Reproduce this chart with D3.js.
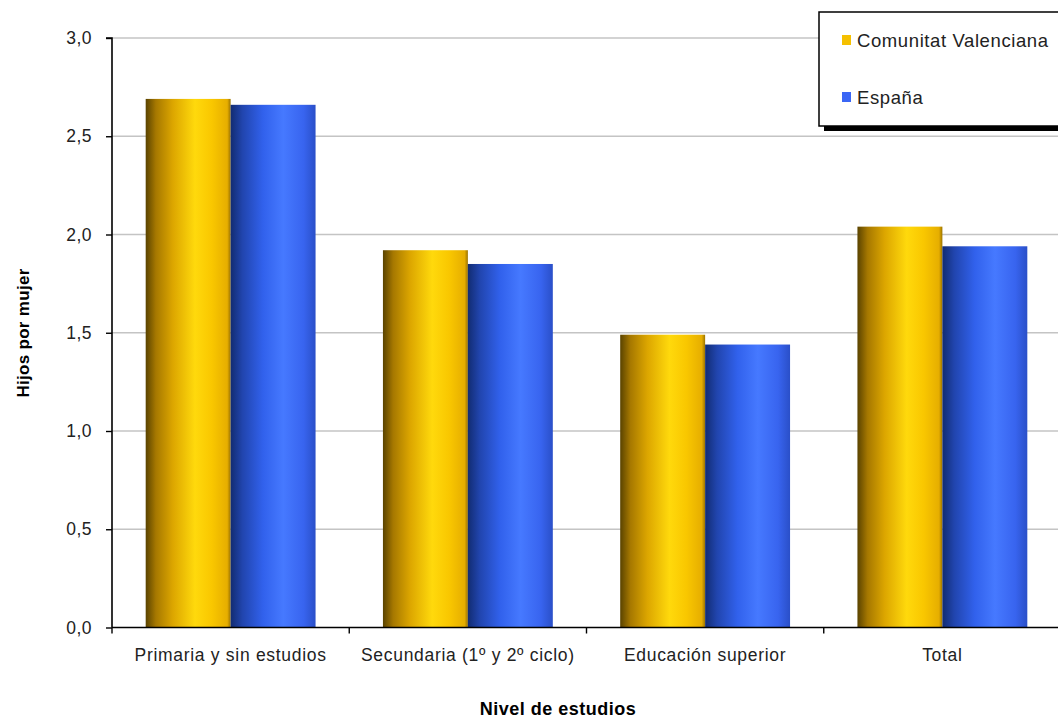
<!DOCTYPE html>
<html>
<head>
<meta charset="utf-8">
<script src="https://cdn.jsdelivr.net/npm/d3@7"></script>
<style>
  body { margin: 0; background: #fff; }
  svg { display: block; font-family: "Liberation Sans", Arial, sans-serif; }
</style>
</head>
<body>
<div id="chart"></div>
<script>
// Categories and values
const categories = ["Primaria y sin estudios", "Secundaria (1º y 2º ciclo)", "Educación superior", "Total"];
const seriesNames = ["Comunitat Valenciana", "España"];
const valenciaValues = [2.69, 1.92, 1.49, 2.04];
const spainValues = [2.66, 1.85, 1.44, 1.94];
const yTicks = [0, 0.5, 1, 1.5, 2, 2.5, 3];

const width = 1058, height = 721;

const svg = d3.select("#chart").append("svg")
    .attr("width", width)
    .attr("height", height);

// Gradients that give the bars their cylinder look
const defs = svg.append("defs");
function addGradient(id, stops) {
    const g = defs.append("linearGradient").attr("id", id)
        .attr("x1", "0%").attr("x2", "100%").attr("y1", "0%").attr("y2", "0%");
    stops.forEach(s => g.append("stop").attr("offset", s[0]).attr("stop-color", s[1]));
}
addGradient("gradYellow", [["0%", "#5a4300"], ["12%", "#a67800"], ["32%", "#dca600"], ["58%", "#ffd90c"], ["78%", "#f9c700"], ["96%", "#e6ae00"], ["100%", "#9c7400"]]);
addGradient("gradBlue", [["0%", "#122c72"], ["14%", "#2145ae"], ["38%", "#3161ec"], ["62%", "#4679ff"], ["86%", "#3864ef"], ["100%", "#2a4fc8"]]);

const x = d3.scaleBand()
    .domain(categories)
    .range([112, 1061])
    .paddingInner(0.284)
    .paddingOuter(0.142);

const x1 = d3.scaleBand()
    .domain(seriesNames)
    .range([0, x.bandwidth()]);

const y = d3.scaleLinear()
    .domain([0, 3])
    .range([627.5, 38]);

// Horizontal gridlines
svg.append("g")
    .selectAll("line")
    .data(yTicks.filter(d => d > 0))
    .enter()
    .append("line")
    .attr("x1", 112).attr("x2", width)
    .attr("y1", d => y(d)).attr("y2", d => y(d))
    .attr("stroke", "#c4c4c4")
    .attr("stroke-width", 1.6);

// Bars
const rows = categories.map((c, i) => ({ cat: c, values: [valenciaValues[i], spainValues[i]] }));
const fills = ["url(#gradYellow)", "url(#gradBlue)"];

const group = svg.append("g")
    .selectAll("g")
    .data(rows)
    .enter()
    .append("g")
    .attr("transform", d => `translate(${x(d.cat)},0)`);

group.selectAll("rect")
    .data(d => d.values.map((v, j) => ({ name: seriesNames[j], v: v, j: j })))
    .enter()
    .append("rect")
    .attr("x", d => x1(d.name))
    .attr("y", d => y(d.v))
    .attr("width", x1.bandwidth())
    .attr("height", d => y(0) - y(d.v))
    .attr("fill", d => fills[d.j]);

// Y axis
const yAxis = svg.append("g")
    .attr("transform", "translate(112,0)")
    .call(d3.axisLeft(y).tickValues(yTicks).tickSize(6).tickPadding(14)
        .tickFormat(d => d3.format(".1f")(d).replace(".", ",")));
yAxis.select(".domain").attr("stroke", "#000").attr("stroke-width", 1.6).attr("d", `M-6,${y(3)}H0V${y(0)}`);
yAxis.selectAll(".tick line").attr("stroke", "#000").attr("stroke-width", 1.4);
yAxis.selectAll(".tick text")
    .attr("font-size", 17.5)
    .attr("letter-spacing", 0.5)
    .attr("fill", "#222")
    .attr("font-family", "'Liberation Sans', Arial, sans-serif");

// X axis with ticks between categories
const xAxis = svg.append("g")
    .attr("transform", `translate(0,${y(0)})`);
xAxis.append("line")
    .attr("x1", 112).attr("x2", width)
    .attr("stroke", "#000").attr("stroke-width", 1.6);
xAxis.selectAll(".sep")
    .data(categories)
    .enter()
    .append("line")
    .attr("class", "sep")
    .attr("x1", d => x(d) - x.step() * x.paddingInner() / 2)
    .attr("x2", d => x(d) - x.step() * x.paddingInner() / 2)
    .attr("y1", 0).attr("y2", 6)
    .attr("stroke", "#000").attr("stroke-width", 1.4);
xAxis.selectAll(".lbl")
    .data(categories)
    .enter()
    .append("text")
    .attr("class", "lbl")
    .attr("x", d => x(d) + x.bandwidth() / 2)
    .attr("y", 33)
    .attr("text-anchor", "middle")
    .attr("font-size", 17.5)
    .attr("letter-spacing", 0.7)
    .attr("fill", "#222")
    .text(d => d);

// Axis titles
svg.append("text")
    .attr("transform", "translate(29,333) rotate(-90)")
    .attr("text-anchor", "middle")
    .attr("font-size", 17)
    .attr("font-weight", "bold")
    .attr("letter-spacing", 0.3)
    .text("Hijos por mujer");

svg.append("text")
    .attr("x", 558).attr("y", 715)
    .attr("text-anchor", "middle")
    .attr("font-size", 18)
    .attr("font-weight", "bold")
    .attr("letter-spacing", 0.5)
    .text("Nivel de estudios");

// Legend box with a drop shadow
const legend = svg.append("g").attr("transform", "translate(819,12)");
legend.append("rect")
    .attr("x", 5).attr("y", 5)
    .attr("width", 260).attr("height", 114)
    .attr("fill", "#000");
legend.append("rect")
    .attr("width", 260).attr("height", 114)
    .attr("fill", "#fff")
    .attr("stroke", "#000")
    .attr("stroke-width", 1.5);

const legendColors = ["#f5c000", "#3a66f5"];
const item = legend.selectAll(".item")
    .data(seriesNames)
    .enter()
    .append("g")
    .attr("class", "item")
    .attr("transform", (d, i) => `translate(23,${28 + i * 57})`);
item.append("rect")
    .attr("x", 0).attr("y", -5)
    .attr("width", 9).attr("height", 10)
    .attr("fill", (d, i) => legendColors[i]);
item.append("text")
    .attr("x", 15).attr("y", 7)
    .attr("font-size", 18.5)
    .attr("letter-spacing", 0.6)
    .attr("fill", "#222")
    .text(d => d);
</script>
</body>
</html>
